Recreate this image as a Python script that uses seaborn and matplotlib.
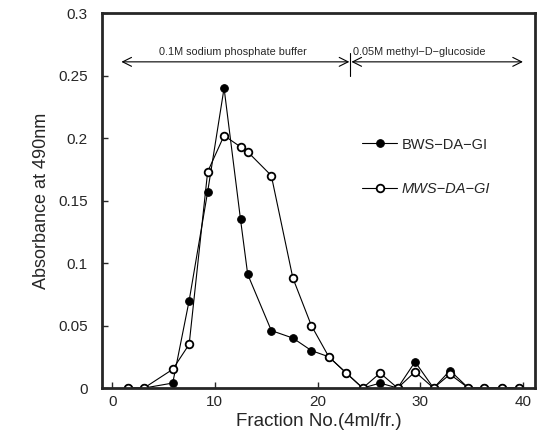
import numpy as np
import pandas as pd
import matplotlib
matplotlib.use("Agg")
import matplotlib.pyplot as plt
import seaborn as sns

# fraction positions
fractions = [1.5, 3.1, 5.9, 7.5, 9.3, 10.9, 12.5, 13.2, 15.5, 17.6, 19.4, 21.1,
             22.8, 24.4, 26.1, 27.8, 29.5, 31.3, 32.9, 34.7, 36.2, 38.0, 39.6]

bws = [0.0, 0.0, 0.004, 0.070, 0.157, 0.240, 0.135, 0.091, 0.046, 0.040, 0.030, 0.025,
       0.012, 0.0, 0.004, 0.0, 0.021, 0.0, 0.014, 0.0, 0.0, 0.0, 0.0]
mws = [0.0, 0.0, 0.015, 0.035, 0.173, 0.202, 0.193, 0.189, 0.170, 0.088, 0.050, 0.025,
       0.012, 0.0, 0.012, 0.0, 0.013, 0.0, 0.011, 0.0, 0.0, 0.0, 0.0]

x_ticks = [0, 10, 20, 30, 40]
y_ticks = [0, 0.05, 0.1, 0.15, 0.2, 0.25, 0.3]
y_tick_labels = ["0", "0.05", "0.1", "0.15", "0.2", "0.25", "0.3"]

df = pd.DataFrame({"fraction": fractions, "BWS": bws, "MWS": mws})

sns.set_style("ticks")
plt.rcParams["font.family"] = ["Liberation Sans", "DejaVu Sans"]

fig = plt.figure(figsize=(5.39, 4.37), dpi=100)
ax = fig.add_axes([0.189, 0.112, 0.804, 0.858])

sns.lineplot(data=df, x="fraction", y="BWS", ax=ax, color="black", lw=0.8,
             marker="o", markersize=5.5, markerfacecolor="black",
             markeredgecolor="black", label="BWS\u2212DA\u2212GI")
sns.lineplot(data=df, x="fraction", y="MWS", ax=ax, color="black", lw=0.8,
             marker="o", markersize=5.5, markerfacecolor="white",
             markeredgecolor="black", markeredgewidth=1.3,
             label="MWS\u2212DA\u2212GI")

ax.set_xlim(-1.0, 41.2)
ax.set_ylim(0, 0.3)
ax.set_xticks(x_ticks)
ax.set_yticks(y_ticks)
ax.set_yticklabels(y_tick_labels)
ax.tick_params(direction="in", length=4, width=1, labelsize=11)
ax.tick_params(axis="y", pad=10)
ax.tick_params(axis="x", pad=5)
for s in ax.spines.values():
    s.set_visible(True)
    s.set_linewidth(2)

ax.set_xlabel("Fraction No.(4ml/fr.)", fontsize=13.5, labelpad=3)
ax.set_ylabel("Absorbance at 490nm", fontsize=13, labelpad=6)

# buffer annotations
ax.annotate("", xy=(0.9, 0.261), xytext=(23.1, 0.261),
            arrowprops=dict(arrowstyle="<->", color="black", lw=0.8,
                            shrinkA=0, shrinkB=0, mutation_scale=16))
ax.annotate("", xy=(23.3, 0.261), xytext=(40.0, 0.261),
            arrowprops=dict(arrowstyle="<->", color="black", lw=0.8,
                            shrinkA=0, shrinkB=0, mutation_scale=16))
ax.plot([23.2, 23.2], [0.250, 0.268], color="black", lw=0.8)
ax.text(11.8, 0.265, "0.1M sodium phosphate buffer", ha="center", va="bottom", fontsize=7.8)
ax.text(23.5, 0.265, "0.05M methyl\u2212D\u2212glucoside", ha="left", va="bottom", fontsize=7.8)

leg = ax.legend(loc="center left", bbox_to_anchor=(0.57, 0.59), frameon=False,
                fontsize=10.5, handlelength=2.4, handletextpad=0.3, labelspacing=2.1)
leg.get_texts()[1].set_fontstyle("italic")

fig.savefig("out.png", dpi=100)
